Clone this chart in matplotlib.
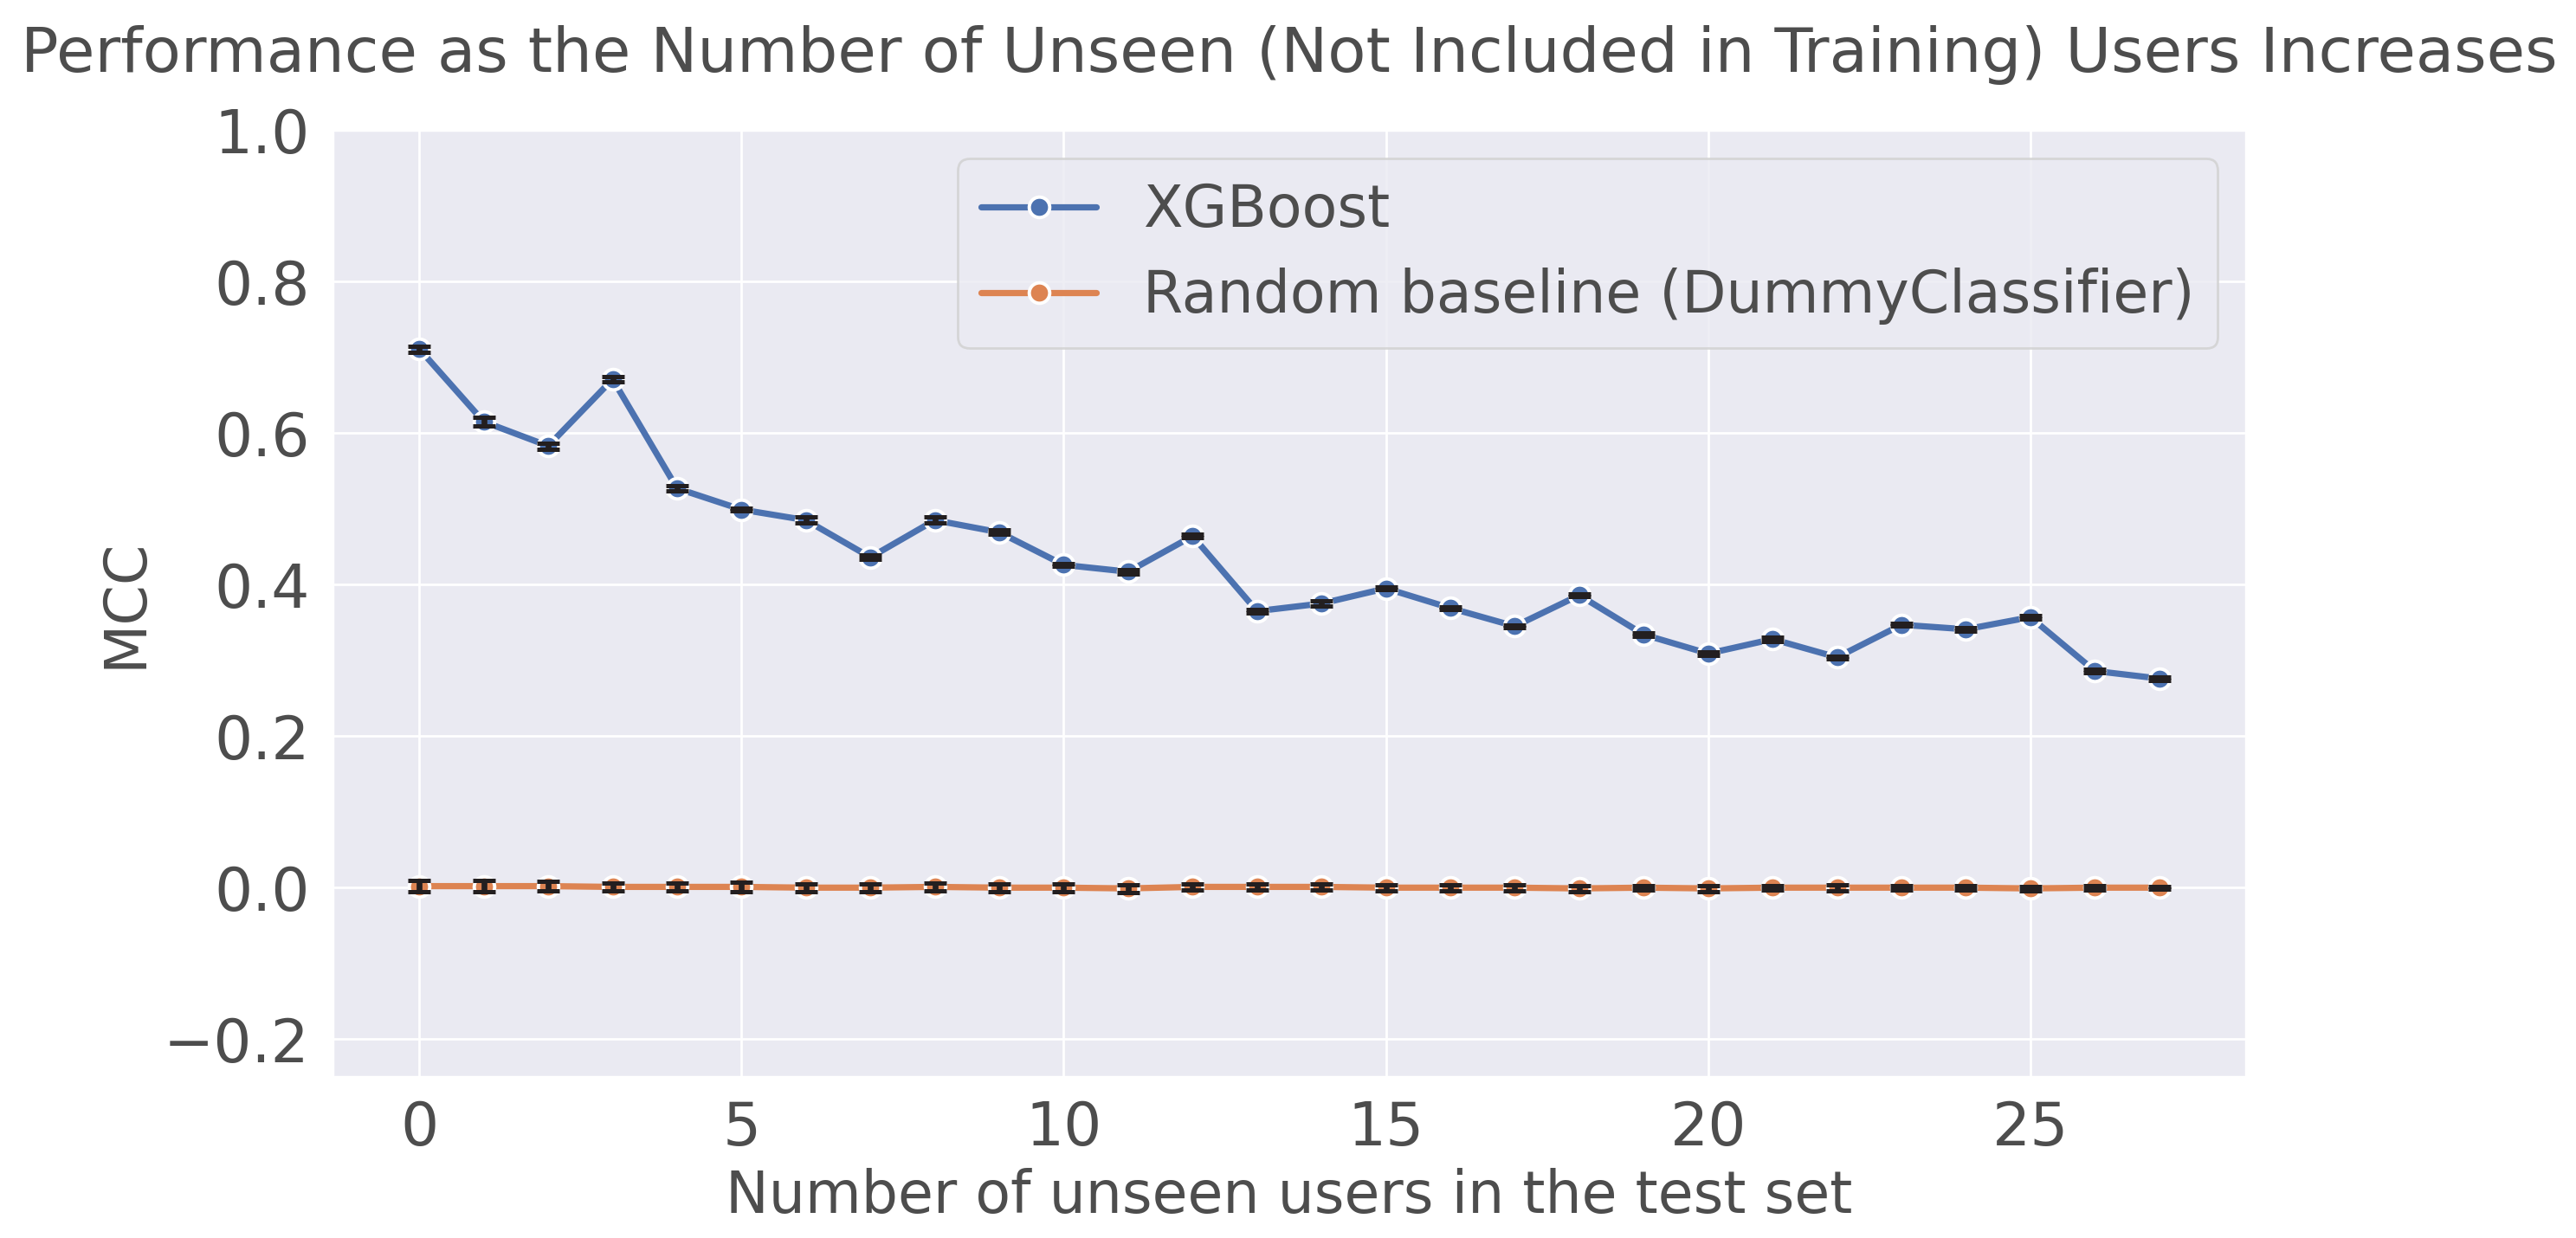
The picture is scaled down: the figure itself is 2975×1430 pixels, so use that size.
import matplotlib
matplotlib.use("Agg")
import matplotlib.pyplot as plt
import numpy as np
import seaborn as sns

# number of unseen users in the test set
n_unseen = list(range(28))

xgb_mcc = [0.711, 0.615, 0.583, 0.671, 0.527, 0.499, 0.485, 0.436, 0.485, 0.469,
           0.426, 0.417, 0.464, 0.365, 0.375, 0.395, 0.369, 0.345, 0.386, 0.334,
           0.309, 0.328, 0.304, 0.347, 0.341, 0.357, 0.286, 0.276]
xgb_err = [0.004, 0.006, 0.004, 0.003, 0.003, 0.002, 0.004, 0.003, 0.004, 0.003,
           0.002, 0.003, 0.002, 0.002, 0.003, 0.002, 0.002, 0.002, 0.002, 0.002,
           0.002, 0.003, 0.002, 0.002, 0.002, 0.002, 0.002, 0.002]

dummy_mcc = [0.002, 0.002, 0.002, 0.001, 0.001, 0.001, 0.000, 0.000, 0.001, 0.000,
             0.000, -0.001, 0.001, 0.001, 0.001, 0.000, 0.000, 0.000, -0.001, 0.000,
             -0.001, 0.000, 0.000, 0.000, 0.000, -0.001, 0.000, 0.000]
dummy_err = [0.007, 0.007, 0.006, 0.005, 0.005, 0.006, 0.005, 0.005, 0.005, 0.005,
             0.005, 0.005, 0.004, 0.004, 0.004, 0.004, 0.004, 0.004, 0.004, 0.003,
             0.004, 0.003, 0.004, 0.003, 0.003, 0.003, 0.003, 0.002]

sns.set_theme(style="darkgrid")
TXT = "#4d4d4d"
plt.rcParams["font.family"] = ["DejaVu Sans"]
plt.rcParams["text.color"] = TXT
plt.rcParams["axes.labelcolor"] = TXT
plt.rcParams["xtick.color"] = TXT
plt.rcParams["ytick.color"] = TXT

fig, ax = plt.subplots(figsize=(14.875, 7.15), dpi=200)
fig.subplots_adjust(left=0.129, right=0.872, top=0.895, bottom=0.130)

series = [
    ("XGBoost", xgb_mcc, xgb_err, "#4C72B0"),
    ("Random baseline (DummyClassifier)", dummy_mcc, dummy_err, "#DD8452"),
]
for label, y, err, col in series:
    ax.plot(n_unseen, y, color=col, lw=2.6, marker="o", ms=8.5,
            mec="white", mew=1.4, label=label, zorder=3)
    ax.errorbar(n_unseen, y, yerr=err, fmt="none", ecolor="#231f20",
                elinewidth=2.4, capsize=4.8, capthick=1.8, zorder=4)

ax.set_xlim(-1.35, 28.35)
ax.set_ylim(-0.25, 1.0)
ax.set_xticks([0, 5, 10, 15, 20, 25])
ax.set_yticks([-0.2, 0.0, 0.2, 0.4, 0.6, 0.8, 1.0])
ax.tick_params(labelsize=25)
ax.set_xlabel("Number of unseen users in the test set", fontsize=24, labelpad=4)
ax.set_ylabel("MCC", fontsize=24)
ax.set_title("Performance as the Number of Unseen (Not Included in Training) Users Increases",
             fontsize=26, pad=24)

leg = ax.legend(loc="upper right", fontsize=24, frameon=True)
leg.get_frame().set_edgecolor("#d0d0d0")

fig.savefig("out.png", dpi=200)
